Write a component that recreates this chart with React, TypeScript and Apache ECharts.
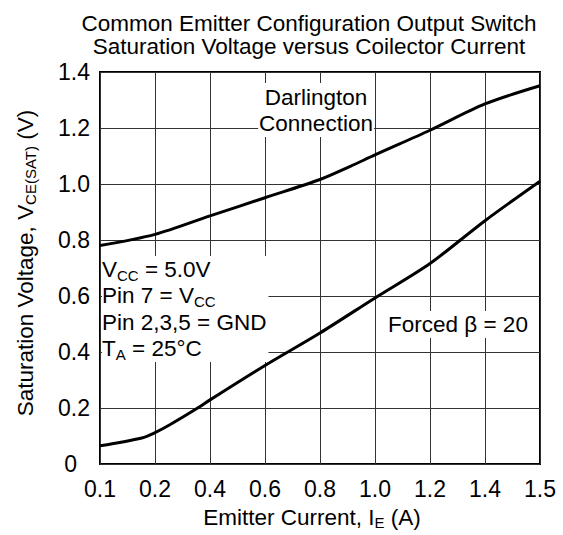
import React, { useEffect, useRef } from "react";
import * as echarts from "echarts";

// Axis tick currents (equally spaced on the chart) and their labels
const xTickCurrents = [0.1, 0.2, 0.4, 0.6, 0.8, 1.0, 1.2, 1.4, 1.5];
const xTickLabels = ["0.1", "0.2", "0.4", "0.6", "0.8", "1.0", "1.2", "1.4", "1.5"];
const yTickLabels = ["0", "0.2", "0.4", "0.6", "0.8", "1.0", "1.2", "1.4"];

// Darlington connection curve: [emitter current (A), Vce(sat) (V)]
const darlingtonCurrent = [0.1, 0.2, 0.4, 0.6, 0.8, 0.91, 1.0, 1.2, 1.4, 1.5];
const darlingtonVoltage = [0.78, 0.82, 0.886, 0.951, 1.016, 1.063, 1.104, 1.192, 1.286, 1.351];

// Forced beta = 20 curve
const forcedCurrent = [0.1, 0.176, 0.2, 0.254, 0.364, 0.4, 0.6, 0.8, 1.0, 1.2, 1.4, 1.5];
const forcedVoltage = [0.065, 0.093, 0.112, 0.14, 0.205, 0.229, 0.352, 0.468, 0.593, 0.716, 0.869, 1.01];

// map a current to the (equally spaced) axis position
function currentToPos(c: number): number {
  for (let i = 0; i < xTickCurrents.length - 1; i++) {
    const a = xTickCurrents[i];
    const b = xTickCurrents[i + 1];
    if (c <= b || i === xTickCurrents.length - 2) {
      return i + (c - a) / (b - a);
    }
  }
  return 0;
}

const FONT = "Liberation Sans, Arial, sans-serif";
const FS = 22.5;
const SUB = 15;

export default function App() {
  const ref = useRef<HTMLDivElement>(null);
  useEffect(() => {
    if (!ref.current) return;
    const chart = echarts.init(ref.current, undefined, { renderer: "svg" });
    const mainRich = {
      n: { fontSize: FS, fontFamily: FONT, color: "#000", lineHeight: 26 },
      s: { fontSize: SUB, fontFamily: FONT, color: "#000", verticalAlign: "bottom", lineHeight: 16 },
    };
    chart.setOption({
      animation: false,
      backgroundColor: "#fff",
      textStyle: { fontFamily: FONT },
      grid: {
        left: 100,
        right: 23,
        top: 72,
        bottom: 67,
        show: true,
        borderColor: "#000",
        borderWidth: 2,
        backgroundColor: "transparent",
        containLabel: false,
      },
      xAxis: {
        type: "value",
        min: 0,
        max: 8,
        interval: 1,
        axisLine: { show: false },
        axisTick: { show: false },
        splitLine: { show: true, lineStyle: { color: "#333", width: 1 } },
        axisLabel: {
          fontSize: 23,
          color: "#000",
          fontFamily: FONT,
          margin: 13,
          formatter: (v: number) => xTickLabels[Math.round(v)] ?? "",
        },
        name: "{n|Emitter Current, I}{s|E}{n| (A)}",
        nameLocation: "middle",
        nameGap: 40,
        nameTextStyle: { rich: mainRich, padding: [0, 16, 0, 0] },
      },
      yAxis: {
        type: "value",
        min: 0,
        max: 1.4,
        interval: 0.2,
        axisLine: { show: false },
        axisTick: { show: false },
        splitLine: { show: true, lineStyle: { color: "#333", width: 1 } },
        axisLabel: {
          fontSize: 23,
          color: "#000",
          fontFamily: FONT,
          margin: 10,
          formatter: (v: number) => {
            const i = Math.round(v / 0.2);
            const t = yTickLabels[i] ?? "";
            return i === 0 ? "{z|" + t + "}" : t;
          },
          rich: { z: { fontSize: 23, fontFamily: FONT, color: "#000", padding: [0, 13, 0, 0] } },
        },
        name: "{n|Saturation Voltage, V}{s|CE(SAT)}{n| (V)}",
        nameLocation: "middle",
        nameGap: 62,
        nameTextStyle: { rich: mainRich, padding: [0, 0, 0, 10] },
      },
      graphic: [
        {
          type: "text",
          x: 309,
          y: 12,
          style: {
            text: "Common Emitter Configuration Output Switch\nSaturation Voltage versus Coilector Current",
            fontSize: FS,
            lineHeight: 23,
            fontFamily: FONT,
            fill: "#000",
            align: "center",
          },
        },
        {
          type: "text",
          x: 316,
          y: 83,
          z: 10,
          style: {
            text: "Darlington\nConnection",
            fontSize: FS,
            lineHeight: 26,
            fontFamily: FONT,
            fill: "#000",
            align: "center",
            backgroundColor: "#fff",
            padding: [1, 1, 1, 1],
          },
        },
        {
          type: "text",
          x: 102,
          y: 256,
          z: 10,
          style: {
            text:
              "{n|V}{s|CC}{n| = 5.0V}\n{n|Pin 7 = V}{s|CC}\n{n|Pin 2,3,5 = GND}\n{n|T}{s|A}{n| = 25°C}",
            rich: {
              n: { fontSize: FS, fontFamily: FONT, fill: "#000", color: "#000", lineHeight: 26.5 },
              s: { fontSize: SUB, fontFamily: FONT, fill: "#000", color: "#000", verticalAlign: "bottom", lineHeight: 17 },
            },
            backgroundColor: "#fff",
            padding: [0, 2, 0, 0],
          },
        },
        {
          type: "text",
          x: 386,
          y: 311,
          z: 10,
          style: {
            text: "Forced β = 20",
            fontSize: FS,
            fontFamily: FONT,
            fill: "#000",
            backgroundColor: "#fff",
            padding: [2, 2, 2, 2],
          },
        },
      ],
      series: [
        {
          type: "line",
          name: "Darlington Connection",
          data: darlingtonCurrent.map((c, i) => [currentToPos(c), darlingtonVoltage[i]]),
          showSymbol: false,
          smooth: 0.3,
          lineStyle: { color: "#000", width: 3 },
          z: 5,
        },
        {
          type: "line",
          name: "Forced beta = 20",
          data: forcedCurrent.map((c, i) => [currentToPos(c), forcedVoltage[i]]),
          showSymbol: false,
          smooth: 0.3,
          lineStyle: { color: "#000", width: 3 },
          z: 5,
        },
      ],
    });
    return () => chart.dispose();
  }, []);
  return <div ref={ref} style={{ width: 563, height: 535, position: "absolute", left: 0, top: 0 }} />;
}
